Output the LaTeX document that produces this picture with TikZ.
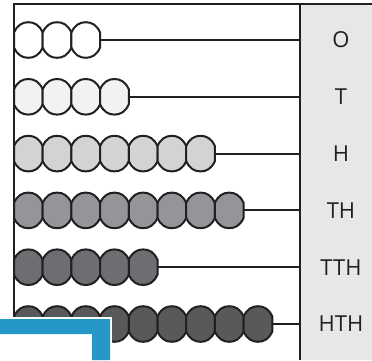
\documentclass[tikz,border=0pt]{standalone}
\usepackage{fontspec}
\setmainfont{Open Sans}
\usepackage{tikz}

\definecolor{inkgray}{HTML}{231F20}
\definecolor{panelgray}{HTML}{E6E7E8}
\definecolor{beadO}{HTML}{FFFFFF}
\definecolor{beadT}{HTML}{F1F2F2}
\definecolor{beadH}{HTML}{D1D3D4}
\definecolor{beadTH}{HTML}{939598}
\definecolor{beadTTH}{HTML}{6D6E71}
\definecolor{beadHTH}{HTML}{58595B}
\definecolor{tabblue}{HTML}{2598C8}

\begin{document}
\begin{tikzpicture}[x=1pt, y=-1pt,
                frame/.style={draw=inkgray, line width=2.4pt}, % outer lines of the abacus
                rod/.style={draw=inkgray, line width=1.9pt}, % wire behind the beads
                place/.style={text=inkgray, font=\fontsize{22}{26}\selectfont}, % place value names
                pics/bead/.style={code={
                    \draw[inkgray, line width=2pt, fill=#1]
                        (-14.35,-7.5) -- (-14.35,7.5)
                        .. controls (-11,15) and (-6,17.8) .. (0,17.8)
                        .. controls (6,17.8) and (11,15) .. (14.35,7.5)
                        -- (14.35,-7.5)
                        .. controls (11,-15) and (6,-17.8) .. (0,-17.8)
                        .. controls (-6,-17.8) and (-11,-15) .. cycle;
                }}
                ]
                \useasboundingbox (0,0) rectangle (372,360);
                \fill[panelgray] (300,4) rectangle (372,360);

                % one row per place value
                \foreach \n/\cnt [count=\i] in {O/3, T/4, H/7, TH/8, TTH/5, HTH/9} {
                    \pgfmathsetmacro{\yy}{40+56.8*(\i-1)}
                    \coordinate (end\n) at ({14+28.7*\cnt},\yy);
                    \coordinate (bar\n) at (300,\yy);
                    \draw[rod] (end\n) -- (bar\n);
                    \foreach \k in {1,...,\cnt}
                        \pic at ({14+28.7*(\k-0.5)},\yy) {bead=bead\n};
                    \node[place] (lab\n) at (341,\yy) {\n};
                }

                \coordinate (topleft) at (14,4);
                \coordinate (topright) at (372,4);
                \coordinate (botleft) at (14,360);
                \coordinate (bartop) at (300,4);
                \coordinate (barbot) at (300,360);
                \draw[frame] (botleft) -- (topleft) -- (topright);
                \draw[frame] (bartop) -- (barbot);

                % blue tab in the corner
                \fill[white] (0,317) rectangle (112,360);
                \fill[tabblue] (0,319) -- (110,319) -- (110,360) -- (92,360)
                    -- (92,334) -- (0,334) -- cycle;
            \end{tikzpicture}
\end{document}
